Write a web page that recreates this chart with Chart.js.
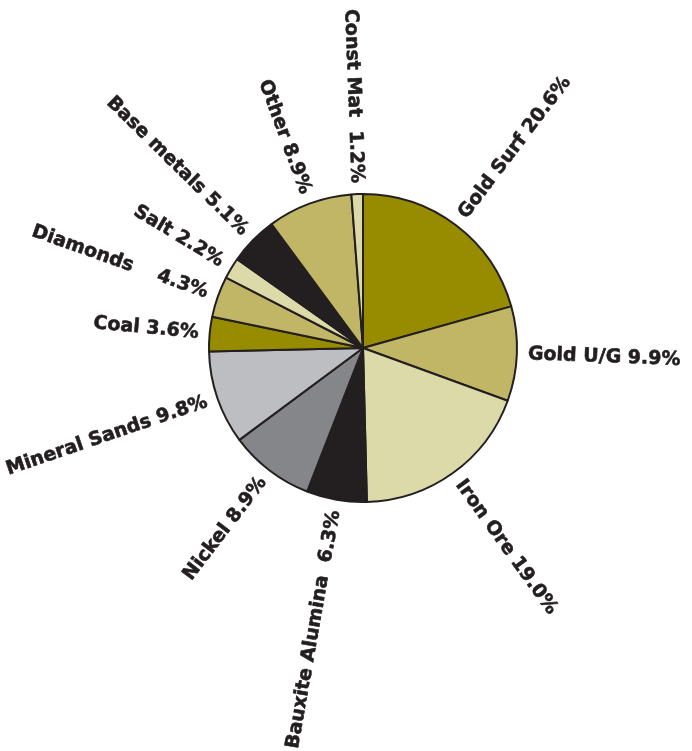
<!DOCTYPE html>
<html>
<head>
<meta charset="utf-8">
<script src="https://cdn.jsdelivr.net/npm/chart.js@4/dist/chart.umd.min.js"></script>
<style>
html,body{margin:0;padding:0;background:#ffffff;}
#wrap{width:692px;height:751px;}
</style>
</head>
<body>
<div id="wrap"><canvas id="c" width="692" height="751"></canvas></div>
<script>
// ---- data ----
const categories = ["Gold Surf","Gold U/G","Iron Ore","Bauxite Alumina","Nickel","Mineral Sands","Coal","Diamonds","Salt","Base metals","Other","Const Mat"];
const shares = [20.6, 9.9, 19.0, 6.3, 8.9, 9.8, 3.6, 4.3, 2.2, 5.1, 8.9, 1.2];
const labelGaps = [" "," "," ","  "," "," "," ","    "," "," "," ","  "];
const sliceColors = ["#978b00","#c0b665","#dddaa9","#231f20","#858689","#bdbec1","#978b00","#c0b665","#dddaa9","#231f20","#c0b665","#dddaa9"];

const labelTexts = categories.map((c,i)=> c + labelGaps[i] + shares[i].toFixed(1) + "%");

const radialLabels = {
  id:'radialLabels',
  afterDatasetsDraw(chart){
    const ctx = chart.ctx;
    const meta = chart.getDatasetMeta(0);
    ctx.save();
    ctx.font = "bold 19px 'DejaVu Sans'";
    ctx.fillStyle = "#231f20";
    ctx.strokeStyle = "#231f20";
    ctx.lineWidth = 0.6;
    ctx.lineJoin = "round";
    ctx.textBaseline = "middle";
    meta.data.forEach((arc,i)=>{
      const mid = (arc.startAngle + arc.endAngle)/2;
      const d = arc.outerRadius + 11;
      const x = arc.x + Math.cos(mid)*d;
      const y = arc.y + Math.sin(mid)*d;
      ctx.save();
      ctx.translate(x,y);
      if (Math.cos(mid) >= 0) {
        ctx.rotate(mid);
        ctx.textAlign = "left";
      } else {
        ctx.rotate(mid + Math.PI);
        ctx.textAlign = "right";
      }
      ctx.fillText(labelTexts[i],0,0);
      ctx.strokeText(labelTexts[i],0,0);
      ctx.restore();
    });
    ctx.restore();
  }
};

new Chart(document.getElementById('c'),{
  type:'pie',
  data:{
    labels:categories,
    datasets:[{
      data:shares,
      backgroundColor:sliceColors,
      borderColor:"#231f20",
      borderWidth:2
    }]
  },
  options:{
    responsive:false,
    animation:false,
    radius:154,
    layout:{padding:{left:34,right:0,top:0,bottom:55}},
    plugins:{legend:{display:false},tooltip:{enabled:false}}
  },
  plugins:[radialLabels]
});
</script>
</body>
</html>
